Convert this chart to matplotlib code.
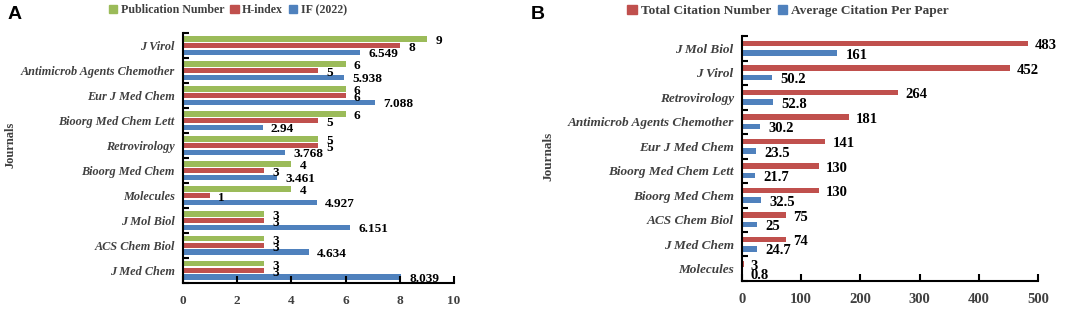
import matplotlib
matplotlib.use("Agg")
import matplotlib.pyplot as plt
import numpy as np
from matplotlib.patches import Patch

# Panel A data (top to bottom as shown)
journals_a = ["J Virol", "Antimicrob Agents Chemother", "Eur J Med Chem",
              "Bioorg Med Chem Lett", "Retrovirology", "Bioorg Med Chem",
              "Molecules", "J Mol Biol", "ACS Chem Biol", "J Med Chem"]
pub_number = [9, 6, 6, 6, 5, 4, 4, 3, 3, 3]
h_index = [8, 5, 6, 5, 5, 3, 1, 3, 3, 3]
impact_factor = [6.549, 5.938, 7.088, 2.94, 3.768, 3.461, 4.927, 6.151, 4.634, 8.039]
if_labels = ["6.549", "5.938", "7.088", "2.94", "3.768", "3.461", "4.927", "6.151", "4.634", "8.039"]

# Panel B data (top to bottom as shown)
journals_b = ["J Mol Biol", "J Virol", "Retrovirology", "Antimicrob Agents Chemother",
              "Eur J Med Chem", "Bioorg Med Chem Lett", "Bioorg Med Chem",
              "ACS Chem Biol", "J Med Chem", "Molecules"]
total_citations = [483, 452, 264, 181, 141, 130, 130, 75, 74, 3]
avg_citations = [161, 50.2, 52.8, 30.2, 23.5, 21.7, 32.5, 25, 24.7, 0.8]
avg_labels = ["161", "50.2", "52.8", "30.2", "23.5", "21.7", "32.5", "25", "24.7", "0.8"]

GREEN = "#9BBB59"
RED = "#C0504D"
BLUE = "#4F81BD"
GRAY = "#404040"
SERIF = "Liberation Serif"

plt.rcParams["font.family"] = SERIF

fig = plt.figure(figsize=(10.65, 3.12), dpi=100)
ax_a = fig.add_axes([0.1718, 0.093, 0.2545, 0.801])
ax_b = fig.add_axes([0.6967, 0.0994, 0.278, 0.785])


def label_bars(ax, bars, texts, size, dx=6):
    for bar, txt in zip(bars, texts):
        ax.annotate(txt, (bar.get_width(), bar.get_y() + bar.get_height() / 2),
                    xytext=(dx, -1.5), textcoords="offset points",
                    ha="left", va="center", fontsize=size, fontweight="bold",
                    color="black", family=SERIF)


def style_axis(ax, names, xmax, step, cat_size, tick_size):
    n = len(names)
    ax.set_ylim(n - 0.5, -0.5)
    ax.set_xlim(0, xmax)
    ax.set_yticks(np.arange(n))
    ax.set_yticklabels(names, fontsize=cat_size, fontweight="bold", style="italic", color=GRAY)
    ax.set_yticks(np.arange(n + 1) - 0.5, minor=True)
    ax.tick_params(axis="y", which="major", length=0, pad=6)
    ax.tick_params(axis="y", which="minor", length=4, width=1.5, direction="in")
    ax.set_xticks(np.arange(0, xmax + step, step))
    ax.tick_params(axis="x", length=5, width=1.5, direction="in", pad=9,
                   labelsize=tick_size, labelcolor=GRAY)
    for lab in ax.get_xticklabels():
        lab.set_fontweight("bold")
    for s in ["top", "right"]:
        ax.spines[s].set_visible(False)
    for s in ["left", "bottom"]:
        ax.spines[s].set_linewidth(1.5)


# ---- Panel A ----
y = np.arange(len(journals_a))
h = 0.22
off = 0.27
b1 = ax_a.barh(y - off, pub_number, height=h, color=GREEN)
b2 = ax_a.barh(y, h_index, height=h, color=RED)
b3 = ax_a.barh(y + off, impact_factor, height=h, color=BLUE)
label_bars(ax_a, b1, [str(v) for v in pub_number], 9.5)
label_bars(ax_a, b2, [str(v) for v in h_index], 9.5)
label_bars(ax_a, b3, if_labels, 9.5)
style_axis(ax_a, journals_a, 10, 2, 8.8, 9.5)

fig.text(0.010, 0.535, "Journals", rotation=90, ha="center", va="center",
         fontsize=9, fontweight="bold", color=GRAY)

fig.legend(handles=[Patch(color=GREEN, label="Publication Number"),
                    Patch(color=RED, label="H-index"),
                    Patch(color=BLUE, label="IF (2022)")],
           loc="center", bbox_to_anchor=(228 / 1065, 1 - 10 / 312), ncol=3,
           frameon=False, handlelength=0.7, handleheight=0.7, handletextpad=0.3,
           columnspacing=0.5, prop={"family": SERIF, "weight": "bold", "size": 8.6},
           labelcolor=GRAY)

# ---- Panel B ----
yb = np.arange(len(journals_b))
hb = 0.22
offb = 0.19
c1 = ax_b.barh(yb - offb, total_citations, height=hb, color=RED)
c2 = ax_b.barh(yb + offb, avg_citations, height=hb, color=BLUE)
label_bars(ax_b, c1, [str(v) for v in total_citations], 10.5, dx=5)
label_bars(ax_b, c2, avg_labels, 10.5)
style_axis(ax_b, journals_b, 500, 100, 9.5, 10.5)

fig.text(0.5146, 0.50, "Journals", rotation=90, ha="center", va="center",
         fontsize=9.5, fontweight="bold", color=GRAY)

fig.legend(handles=[Patch(color=RED, label="Total Citation Number"),
                    Patch(color=BLUE, label="Average Citation Per Paper")],
           loc="center", bbox_to_anchor=(788 / 1065, 1 - 11 / 312), ncol=2,
           frameon=False, handlelength=0.7, handleheight=0.7, handletextpad=0.3,
           columnspacing=0.5, prop={"family": SERIF, "weight": "bold", "size": 9.6},
           labelcolor=GRAY)

fig.text(0.007, 0.955, "A", fontsize=14, fontweight="bold", family="Liberation Sans",
         ha="left", va="center")
fig.text(0.498, 0.955, "B", fontsize=14, fontweight="bold", family="Liberation Sans",
         ha="left", va="center")

fig.savefig("out.png", dpi=100)
